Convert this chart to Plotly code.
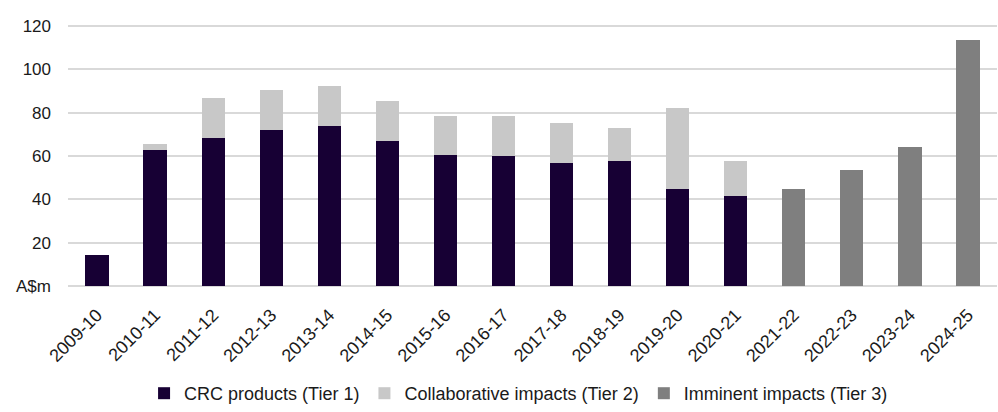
import plotly.graph_objects as go

years = ["2009-10", "2010-11", "2011-12", "2012-13", "2013-14", "2014-15", "2015-16",
         "2016-17", "2017-18", "2018-19", "2019-20", "2020-21", "2021-22", "2022-23",
         "2023-24", "2024-25"]
tier1 = [14.5, 63.0, 68.5, 72.0, 74.0, 67.1, 60.4, 59.9, 57.0, 57.6, 44.6, 41.4,
         None, None, None, None]
tier2 = [None, 2.6, 18.4, 18.6, 18.4, 18.4, 18.2, 18.4, 18.5, 15.6, 37.6, 16.4,
         None, None, None, None]
tier3 = [None, None, None, None, None, None, None, None, None, None, None, None,
         44.6, 53.6, 64.1, 113.7]

y_ticks = [0, 20, 40, 60, 80, 100, 120]
y_tick_labels = ["A$m", "20", "40", "60", "80", "100", "120"]

FONT = "Liberation Sans, Arial, sans-serif"

fig = go.Figure()
fig.add_trace(go.Bar(x=years, y=tier1, name="CRC products (Tier 1)",
                     marker=dict(color="#170034", line=dict(width=0))))
fig.add_trace(go.Bar(x=years, y=tier2, name="Collaborative impacts (Tier 2)",
                     marker=dict(color="#C8C8C8", line=dict(width=0))))
fig.add_trace(go.Bar(x=years, y=tier3, name="Imminent impacts (Tier 3)",
                     marker=dict(color="#7F7F7F", line=dict(width=0))))

fig.update_layout(
    width=998, height=412,
    barmode="stack", bargap=0.6,
    plot_bgcolor="white", paper_bgcolor="white",
    margin=dict(l=68, r=1, t=24, b=125),
    font=dict(family=FONT, size=17, color="#1a1a1a"),
    showlegend=True,
    legend=dict(orientation="h", x=0.485, xanchor="center", y=-0.405, yanchor="middle",
                font=dict(family=FONT, size=18, color="#1a1a1a"),
                traceorder="normal", itemclick=False),
)
fig.update_yaxes(range=[0, 121], tickvals=y_ticks, ticktext=y_tick_labels,
                 showgrid=True, gridcolor="#D9D9D9", gridwidth=1.5,
                 zeroline=True, zerolinecolor="#D9D9D9", zerolinewidth=1.5,
                 showline=False, ticks="", automargin=False,
                 ticklabelstandoff=16, tickfont=dict(size=17))
fig.update_xaxes(type="category", tickangle=-45, showgrid=False, showline=False, ticks="",
                 automargin=False, ticklabelstandoff=14, tickfont=dict(size=18))

fig.write_html("out.html", config={"displayModeBar": False},
               post_script="document.body.style.margin='0';")
